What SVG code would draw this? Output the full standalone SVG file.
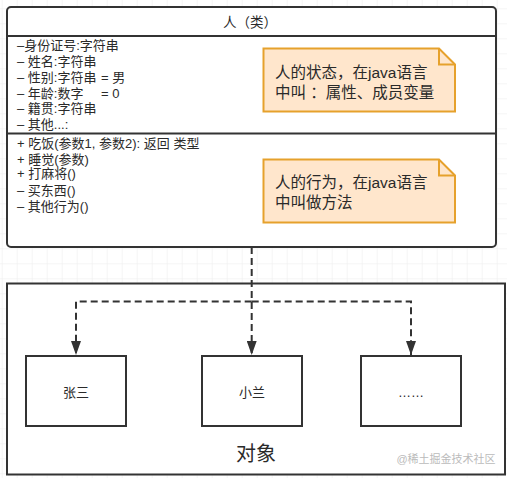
<svg xmlns="http://www.w3.org/2000/svg" width="507" height="478" viewBox="0 0 507 478">
<defs>
<pattern id="grid" x="1.7" y="8.3" width="15" height="15" patternUnits="userSpaceOnUse">
<path d="M15 0H0V15" fill="none" stroke="#ececec" stroke-width="1"/>
</pattern>
<marker id="arr" viewBox="0 0 14 10" refX="14" refY="5" markerWidth="7" markerHeight="5" orient="auto" markerUnits="strokeWidth">
<path d="M0 0L14 5L0 10z" fill="#333"/>
</marker>
</defs>
<style>
.box{fill:#fff;stroke:#333;stroke-width:2}
.t{font-family:"Liberation Sans","Noto Sans CJK SC",sans-serif;fill:#2a2a2a}
.m{font-size:13px}
.note{fill:#ffe6cc;stroke:#e6a12c;stroke-width:2}
.nt{font-size:15.5px}
.c{stroke:#333;stroke-width:2;fill:none;stroke-dasharray:7 4}
</style>
<rect width="507" height="478" fill="#fff"/>
<rect width="507" height="478" fill="url(#grid)"/>

<g id="class">
<rect class="box" x="7" y="7" width="489" height="240" rx="4"/>
<line x1="7" y1="36" x2="496" y2="36" stroke="#333" stroke-width="2"/>
<line x1="7" y1="133.5" x2="496" y2="133.5" stroke="#333" stroke-width="2"/>
<text class="t" x="250" y="27" font-size="13.5" text-anchor="middle">人（类）</text>
<g class="t m">
<text x="17" y="50">–身份证号:字符串</text>
<text x="17" y="66">– 姓名:字符串</text>
<text x="17" y="82">– 性别:字符串 <tspan x="101">=</tspan> 男</text>
<text x="17" y="98">– 年龄:数字 <tspan x="101">= 0</tspan></text>
<text x="17" y="113">– 籍贯:字符串</text>
<text x="17" y="129">– 其他...:</text>
<text x="17" y="147.5">+ 吃饭(参数1, 参数2): 返回 类型</text>
<text x="17" y="163.5">+ 睡觉(参数)</text>
<text x="17" y="178">+ 打麻将()</text>
<text x="17" y="194.5">– 买东西()</text>
<text x="17" y="211">– 其他行为()</text>
</g>
</g>

<g id="note1">
<path class="note" d="M263.5 48.5H439L455 64.5V111.5H263.5Z"/>
<path d="M439 48.5V64.5H455" fill="none" stroke="#e6a12c" stroke-width="2"/>
<text class="t nt" x="275" y="77.5">人的状态，在java语言</text>
<text class="t nt" x="275" y="97.5">中叫 ：属性、成员变量</text>
</g>

<g id="note2">
<path class="note" d="M263.5 159.5H439L455 175.5V222.5H263.5Z"/>
<path d="M439 159.5V175.5H455" fill="none" stroke="#e6a12c" stroke-width="2"/>
<text class="t nt" x="275" y="187.5">人的行为，在java语言</text>
<text class="t nt" x="275" y="207.5">中叫做方法</text>
</g>

<g id="objects">
<rect class="box" x="7" y="283.5" width="498" height="191"/>
<text class="t" x="256" y="461" font-size="20" text-anchor="middle">对象</text>
<text class="t" x="446" y="463" font-size="11" text-anchor="middle" style="fill:#bbb">@稀土掘金技术社区</text>
</g>

<g id="zhangsan">
<rect class="box" x="26" y="356" width="100" height="70"/>
<text class="t" x="76" y="397" font-size="13" text-anchor="middle">张三</text>
</g>
<g id="xiaolan">
<rect class="box" x="202" y="356" width="100" height="70"/>
<text class="t" x="252" y="397" font-size="13" text-anchor="middle">小兰</text>
</g>
<g id="more">
<rect class="box" x="361" y="356" width="100" height="70"/>
<text class="t" x="411" y="397" font-size="13" text-anchor="middle">……</text>
</g>

<g id="connectors">
<path class="c" d="M251.7 247V355" marker-end="url(#arr)"/>
<path class="c" d="M251.7 301.5H76V355" marker-end="url(#arr)"/>
<path class="c" d="M251.7 301.5H411V355" marker-end="url(#arr)"/>
</g>
</svg>
